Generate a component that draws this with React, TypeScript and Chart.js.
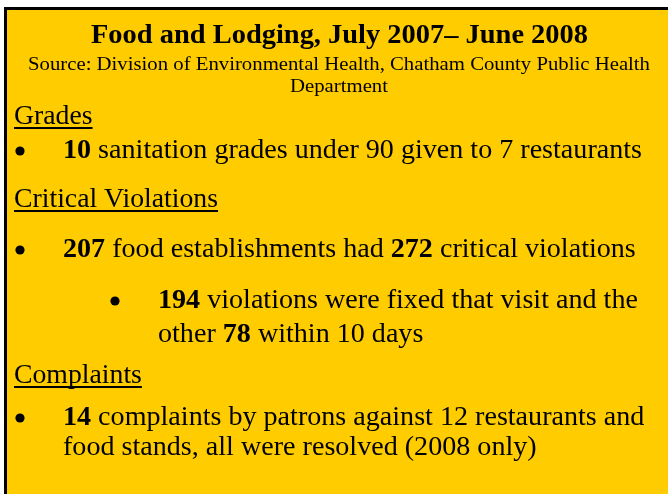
import React, { useEffect, useRef } from "react";
import { Chart, registerables } from "chart.js";

Chart.register(...registerables);

// ---- content / data ----
const titleText = "Food and Lodging, July 2007\u2013 June 2008";
const sourceLines = [
  "Source: Division of Environmental Health, Chatham County Public Health",
  "Department",
];
const sectionHeadings = ["Grades", "Critical Violations", "Complaints"];
const gradeFigures = [10, 90, 7]; // grades under 90, grade threshold, restaurants
const violationFigures = [207, 272, 194, 78, 10]; // establishments, critical violations, fixed same visit, fixed later, days
const complaintFigures = [14, 12, 2008]; // complaints, restaurants/stands, year

type Run = { t: string; b?: boolean };
type Item =
  | { kind: "heading"; text: string; y: number }
  | { kind: "bullet"; level: number; lines: Run[][]; ys: number[] };

const FONT = "'Liberation Serif', 'Times New Roman', serif";
const YELLOW = "#FFCC00";

const items: Item[] = [
  { kind: "heading", text: sectionHeadings[0], y: 124 },
  {
    kind: "bullet",
    level: 0,
    lines: [
      [
        { t: String(gradeFigures[0]), b: true },
        { t: ` sanitation grades under ${gradeFigures[1]} given to ${gradeFigures[2]} restaurants` },
      ],
    ],
    ys: [158],
  },
  { kind: "heading", text: sectionHeadings[1], y: 207 },
  {
    kind: "bullet",
    level: 0,
    lines: [
      [
        { t: String(violationFigures[0]), b: true },
        { t: " food establishments had " },
        { t: String(violationFigures[1]), b: true },
        { t: " critical violations" },
      ],
    ],
    ys: [257],
  },
  {
    kind: "bullet",
    level: 1,
    lines: [
      [
        { t: String(violationFigures[2]), b: true },
        { t: " violations were fixed that visit and the" },
      ],
      [
        { t: "other " },
        { t: String(violationFigures[3]), b: true },
        { t: ` within ${violationFigures[4]} days` },
      ],
    ],
    ys: [308, 342],
  },
  { kind: "heading", text: sectionHeadings[2], y: 383 },
  {
    kind: "bullet",
    level: 0,
    lines: [
      [
        { t: String(complaintFigures[0]), b: true },
        { t: ` complaints by patrons against ${complaintFigures[1]} restaurants and` },
      ],
      [{ t: `food stands, all were resolved (${complaintFigures[2]} only)` }],
    ],
    ys: [425, 455],
  },
];

// font sizes; horizontal scale is fitted to the reference line widths
const TITLE_SIZE = 27;
const SRC_SIZE = 19.5;
const HEAD_SIZE = 27.5;
const BODY_SIZE = 27.5;

function runsWidth(ctx: CanvasRenderingContext2D, runs: Run[], size: number) {
  let w = 0;
  for (const r of runs) {
    ctx.font = `${r.b ? "bold" : "normal"} ${size}px ${FONT}`;
    w += ctx.measureText(r.t).width;
  }
  return w;
}

function drawRuns(
  ctx: CanvasRenderingContext2D,
  runs: Run[],
  size: number,
  x: number,
  y: number,
  sx: number,
  align: "left" | "center" = "left"
) {
  const total = runsWidth(ctx, runs, size) * sx;
  const start = align === "center" ? x - total / 2 : x;
  ctx.save();
  ctx.translate(start, y);
  ctx.scale(sx, 1);
  ctx.textAlign = "left";
  let cx = 0;
  for (const r of runs) {
    ctx.font = `${r.b ? "bold" : "normal"} ${size}px ${FONT}`;
    ctx.fillText(r.t, cx, 0);
    cx += ctx.measureText(r.t).width;
  }
  ctx.restore();
  return total;
}

const slidePlugin = {
  id: "slide",
  beforeDraw(chart: any) {
    const ctx: CanvasRenderingContext2D = chart.ctx;
    const W = chart.width;
    const H = chart.height;
    ctx.save();
    ctx.fillStyle = "#ffffff";
    ctx.fillRect(0, 0, W, H);
    ctx.fillStyle = "#000000";
    ctx.fillRect(4, 7, W - 4, H - 7);
    ctx.fillStyle = YELLOW;
    ctx.fillRect(7, 10, W - 7, H - 10);

    ctx.fillStyle = "#000000";
    ctx.textBaseline = "alphabetic";

    // title
    const titleRuns = [{ t: titleText, b: true }];
    const tsx = 497 / runsWidth(ctx, titleRuns, TITLE_SIZE);
    drawRuns(ctx, titleRuns, TITLE_SIZE, 339.5, 43, tsx, "center");

    // source
    const ssx = 622 / runsWidth(ctx, [{ t: sourceLines[0] }], SRC_SIZE);
    drawRuns(ctx, [{ t: sourceLines[0] }], SRC_SIZE, 339, 70, ssx, "center");
    drawRuns(ctx, [{ t: sourceLines[1] }], SRC_SIZE, 339, 92, ssx, "center");

    const hsx = 204 / runsWidth(ctx, [{ t: sectionHeadings[1] }], HEAD_SIZE);
    const firstBullet = items[1] as any;
    const bsx = 579 / runsWidth(ctx, firstBullet.lines[0], BODY_SIZE);

    for (const it of items) {
      if (it.kind === "heading") {
        const w = drawRuns(ctx, [{ t: it.text }], HEAD_SIZE, 14, it.y, hsx);
        ctx.fillRect(14, it.y + 3, w, 2);
      } else {
        const bx = it.level === 0 ? 20 : 115;
        const tx = it.level === 0 ? 63 : 158;
        ctx.beginPath();
        ctx.arc(bx, it.ys[0] - 7, 4.6, 0, Math.PI * 2);
        ctx.fill();
        it.lines.forEach((runs, i) => {
          drawRuns(ctx, runs, BODY_SIZE, tx, it.ys[i], bsx);
        });
      }
    }
    ctx.restore();
  },
};

export default function App() {
  const ref = useRef<HTMLCanvasElement | null>(null);
  useEffect(() => {
    document.body.style.margin = "0";
    const canvas = ref.current;
    if (!canvas) return;
    const chart = new Chart(canvas, {
      type: "bar",
      data: { labels: [], datasets: [] },
      options: {
        responsive: false,
        animation: false,
        devicePixelRatio: 1,
        plugins: { legend: { display: false }, tooltip: { enabled: false }, title: { display: false } },
        scales: { x: { display: false }, y: { display: false } },
      },
      plugins: [slidePlugin],
    });
    return () => chart.destroy();
  }, []);
  return (
    <canvas
      ref={ref}
      width={668}
      height={494}
      style={{ display: "block", width: 668, height: 494 }}
      role="img"
      aria-label={`${titleText}. ${sourceLines.join(" ")}`}
    />
  );
}
